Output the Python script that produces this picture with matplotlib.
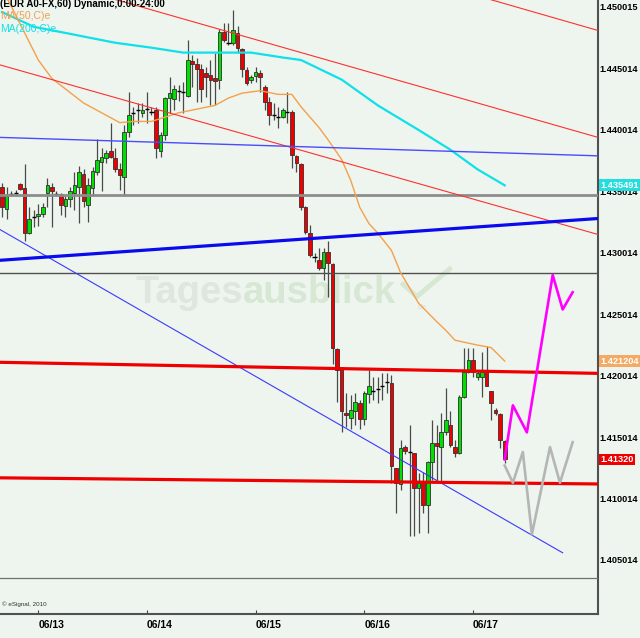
import matplotlib.pyplot as plt
import numpy as np

plt.rcParams['font.family'] = ['Liberation Sans', 'DejaVu Sans']

# hourly EUR A0-FX candles (prices)
opens = [1.4354, 1.4336, 1.4347, 1.4349, 1.4356, 1.4353, 1.4316, 1.4328, 1.4330, 1.4332,
         1.4349, 1.4354, 1.4349, 1.4348, 1.4338, 1.4344, 1.4349, 1.4354, 1.4364, 1.4339,
         1.4353, 1.4366, 1.4374, 1.4377, 1.4383, 1.4377, 1.4368, 1.4362, 1.4398, 1.4413,
         1.4415, 1.4414, 1.4416, 1.4416, 1.4416, 1.4383, 1.4396, 1.4426, 1.4425, 1.4431,
         1.4432, 1.4428, 1.4456, 1.4454, 1.4450, 1.4446, 1.4445, 1.4442, 1.4441, 1.4480,
         1.4472, 1.4471, 1.4479, 1.4466, 1.4449, 1.4441, 1.4444, 1.4446, 1.4435, 1.4423,
         1.4413, 1.4412, 1.4411, 1.4416, 1.4415, 1.4379, 1.4372, 1.4337, 1.4316, 1.4298,
         1.4294, 1.4288, 1.4301, 1.4291, 1.4222, 1.4207, 1.4170, 1.4166, 1.4171, 1.4178,
         1.4165, 1.4185, 1.4189, 1.4188, 1.4191, 1.4194, 1.4194, 1.4125, 1.4112, 1.4142,
         1.4139, 1.4137, 1.4109, 1.4114, 1.4095, 1.4130, 1.4145, 1.4142, 1.4154, 1.4160,
         1.4142, 1.4137, 1.4183, 1.4203, 1.4213, 1.4199, 1.4199, 1.4203, 1.4188, 1.4172,
         1.4169, 1.4147]
highs = [1.4357, 1.4354, 1.4350, 1.4351, 1.4357, 1.4372, 1.4337, 1.4335, 1.4340, 1.4341,
         1.4361, 1.4357, 1.4350, 1.4349, 1.4346, 1.4354, 1.4366, 1.4371, 1.4368, 1.4361,
         1.4370, 1.4393, 1.4385, 1.4384, 1.4406, 1.4385, 1.4373, 1.4404, 1.4431, 1.4419,
         1.4422, 1.4422, 1.4431, 1.4419, 1.4419, 1.4398, 1.4427, 1.4443, 1.4437, 1.4437,
         1.4439, 1.4473, 1.4461, 1.4459, 1.4454, 1.4451, 1.4457, 1.4463, 1.4482, 1.4487,
         1.4487, 1.4498, 1.4485, 1.4467, 1.4451, 1.4445, 1.4451, 1.4449, 1.4437, 1.4427,
         1.4422, 1.4419, 1.4418, 1.4431, 1.4416, 1.4380, 1.4373, 1.4338, 1.4323, 1.4300,
         1.4304, 1.4304, 1.4310, 1.4292, 1.4223, 1.4207, 1.4186, 1.4184, 1.4186, 1.4180,
         1.4188, 1.4205, 1.4199, 1.4199, 1.4202, 1.4202, 1.4201, 1.4125, 1.4148, 1.4144,
         1.4160, 1.4137, 1.4121, 1.4122, 1.4131, 1.4164, 1.4160, 1.4170, 1.4190, 1.4171,
         1.4148, 1.4184, 1.4223, 1.4223, 1.4223, 1.4205, 1.4219, 1.4224, 1.4188, 1.4174,
         1.4170, 1.4148]
lows = [1.4329, 1.4328, 1.4346, 1.4346, 1.4351, 1.4310, 1.4315, 1.4321, 1.4322, 1.4329,
        1.4337, 1.4321, 1.4346, 1.4331, 1.4329, 1.4337, 1.4335, 1.4324, 1.4337, 1.4325,
        1.4346, 1.4363, 1.4350, 1.4373, 1.4377, 1.4366, 1.4351, 1.4346, 1.4394, 1.4404,
        1.4406, 1.4411, 1.4406, 1.4412, 1.4377, 1.4378, 1.4392, 1.4414, 1.4416, 1.4424,
        1.4414, 1.4427, 1.4435, 1.4423, 1.4423, 1.4427, 1.4420, 1.4420, 1.4433, 1.4472,
        1.4469, 1.4469, 1.4463, 1.4443, 1.4437, 1.4438, 1.4439, 1.4431, 1.4416, 1.4404,
        1.4408, 1.4402, 1.4410, 1.4406, 1.4369, 1.4366, 1.4335, 1.4315, 1.4297, 1.4293,
        1.4286, 1.4278, 1.4264, 1.4210, 1.4179, 1.4154, 1.4158, 1.4157, 1.4160, 1.4157,
        1.4160, 1.4178, 1.4180, 1.4178, 1.4180, 1.4186, 1.4113, 1.4088, 1.4107, 1.4136,
        1.4070, 1.4070, 1.4072, 1.4088, 1.4072, 1.4115, 1.4115, 1.4113, 1.4152, 1.4142,
        1.4134, 1.4136, 1.4182, 1.4202, 1.4199, 1.4197, 1.4183, 1.4192, 1.4164, 1.4168,
        1.4141, 1.4129]
closes = [1.4337, 1.4346, 1.4348, 1.4349, 1.4352, 1.4316, 1.4328, 1.4329, 1.4332, 1.4337,
          1.4355, 1.4350, 1.4348, 1.4339, 1.4344, 1.4350, 1.4355, 1.4366, 1.4342, 1.4355,
          1.4367, 1.4376, 1.4378, 1.4381, 1.4378, 1.4368, 1.4363, 1.4398, 1.4412, 1.4414,
          1.4416, 1.4416, 1.4417, 1.4415, 1.4385, 1.4396, 1.4426, 1.4430, 1.4433, 1.4432,
          1.4431, 1.4457, 1.4454, 1.4450, 1.4433, 1.4443, 1.4441, 1.4440, 1.4480, 1.4473,
          1.4471, 1.4481, 1.4467, 1.4450, 1.4438, 1.4443, 1.4447, 1.4443, 1.4423, 1.4412,
          1.4412, 1.4411, 1.4416, 1.4415, 1.4380, 1.4373, 1.4337, 1.4317, 1.4298, 1.4297,
          1.4288, 1.4301, 1.4292, 1.4223, 1.4205, 1.4171, 1.4168, 1.4172, 1.4179, 1.4165,
          1.4186, 1.4192, 1.4188, 1.4189, 1.4192, 1.4195, 1.4127, 1.4113, 1.4141, 1.4139,
          1.4138, 1.4109, 1.4113, 1.4095, 1.4130, 1.4145, 1.4143, 1.4154, 1.4164, 1.4144,
          1.4137, 1.4183, 1.4203, 1.4213, 1.4203, 1.4202, 1.4203, 1.4192, 1.4178, 1.4170,
          1.4148, 1.4132]

day_idx = [8, 32, 56, 80, 104]
day_labels = ["06/13", "06/14", "06/15", "06/16", "06/17"]
price_ticks = [1.450015, 1.445014, 1.440014, 1.435014, 1.430014,
               1.425014, 1.420014, 1.415014, 1.410014, 1.405014]

# moving averages
ma50_idx = [0, 2, 5, 8, 11, 18, 24, 26, 29, 33, 39, 47, 50, 53, 57, 61, 64, 66, 70, 72,
            75, 77, 79, 81, 83, 86, 88, 92, 96, 98, 100, 105, 108, 111]
ma50 = [1.4515, 1.4501, 1.4479, 1.4457, 1.4442, 1.4422, 1.4410, 1.4406, 1.4407, 1.4407,
        1.4414, 1.4420, 1.4426, 1.4430, 1.4432, 1.4429, 1.4429, 1.4419, 1.4402, 1.4392,
        1.4376, 1.4359, 1.4337, 1.4324, 1.4316, 1.4302, 1.4284, 1.4259, 1.4244, 1.4237,
        1.4229, 1.4225, 1.4223, 1.4212]
ma200_idx = [0, 7, 14, 25, 33, 40, 48, 55, 62, 66, 75, 83, 92, 99, 105, 111]
ma200 = [1.4496, 1.4484, 1.4479, 1.4471, 1.4467, 1.4463, 1.4463, 1.4463, 1.4459, 1.4457,
         1.4441, 1.4420, 1.4400, 1.4384, 1.4368, 1.4355]

# trend lines: bar index ends and prices
line_x = [-0.45, 131.6]
red_chan_top = [1.4533, 1.4394]
red_chan_mid = [1.4453, 1.4315]
red_chan_far_x = [108.0, 131.6]
red_chan_far = [1.4506, 1.4481]
red_res = [1.4211, 1.4202]
red_sup = [1.4117, 1.4112]
blue_thick = [1.4294, 1.4328]
blue_flat = [1.4394, 1.4379]
blue_diag_x = [-0.45, 123.8]
blue_diag = [1.4319, 1.4056]
gray_levels = [1.43471, 1.42837, 1.40355]

# projected paths
proj_up_x = [111.0, 112.8, 115.9, 121.6, 123.8, 126.0]
proj_up = [1.4132, 1.4176, 1.4154, 1.4282, 1.4254, 1.4268]
proj_dn_x = [111.0, 112.8, 115.0, 117.0, 121.0, 123.2, 126.0]
proj_dn = [1.4127, 1.4113, 1.4138, 1.4071, 1.4142, 1.4113, 1.4146]

bg = '#eef5ee'
fig = plt.figure(figsize=(6.4, 6.38), dpi=100, facecolor=bg)
ax = fig.add_axes([0, 24 / 638, 598 / 640, 614 / 638], facecolor=bg)

o = np.array(opens)
h = np.array(highs)
l = np.array(lows)
c = np.array(closes)
x = np.arange(len(o))
up = c >= o
doji = np.abs(c - o) < 0.00015

ax.vlines(x, l, h, color='#4a4a4a', lw=0.9, zorder=2)
m = up & ~doji
ax.bar(x[m], (c - o)[m], bottom=o[m], width=0.8, color='#00e000',
       edgecolor='#303030', lw=0.6, zorder=3)
m = ~up & ~doji
ax.bar(x[m], (o - c)[m], bottom=c[m], width=0.8, color='#ee0000',
       edgecolor='#303030', lw=0.6, zorder=3)
ax.hlines(c[doji], x[doji] - 0.45, x[doji] + 0.45, color='black', lw=1.0, zorder=3)

# watermark
w1 = ax.text(0.226, 0.506, 'Tages', transform=ax.transAxes, fontsize=27.5, fontweight='bold',
             color='#dfe6df', va='baseline', zorder=1)
fig.canvas.draw()
bb = w1.get_window_extent()
x_next = ax.transAxes.inverted().transform((bb.x1, bb.y0))[0]
ax.text(x_next, 0.506, 'ausblick', transform=ax.transAxes, fontsize=27.5,
        fontweight='bold', color='#d6e8d3', va='baseline', zorder=1)
ax.plot([0.674, 0.697, 0.752], [0.537, 0.517, 0.562], transform=ax.transAxes,
        color='#d6e8d3', lw=3.5, zorder=1)
ax.text(0.698, 0.497, 'de', transform=ax.transAxes, fontsize=6, color='#d6e2d3', zorder=1)

# lines
for lvl, lw, col in zip(gray_levels, [2.0, 1.0, 0.9], ['#8c8c8c', '#505050', '#707070']):
    ax.axhline(lvl, color=col, lw=lw, zorder=4)
ax.plot(ma200_idx, ma200, color='#10e0e8', lw=1.6, zorder=4)
ax.plot(ma50_idx, ma50, color='#f5a04a', lw=1.0, zorder=4)
ax.plot(line_x, red_chan_top, color='#ff3030', lw=0.8, zorder=4)
ax.plot(line_x, red_chan_mid, color='#ff3030', lw=0.8, zorder=4)
ax.plot(red_chan_far_x, red_chan_far, color='#ff3030', lw=0.8, zorder=4)
ax.plot(line_x, blue_flat, color='#4a4aff', lw=1.0, zorder=4)
ax.plot(blue_diag_x, blue_diag, color='#3a3aff', lw=0.8, zorder=4)
ax.plot(line_x, blue_thick, color='#0a0aee', lw=2.3, zorder=5)
ax.plot(line_x, red_res, color='#ee0000', lw=2.3, zorder=5)
ax.plot(line_x, red_sup, color='#ee0000', lw=2.3, zorder=5)
ax.plot(proj_dn_x, proj_dn, color='#b5b5b5', lw=1.9, zorder=5)
ax.plot(proj_up_x, proj_up, color='#ff00ff', lw=1.9, zorder=6)

ax.set_xlim(-0.45, 131.6)
ax.set_ylim(1.40062, 1.45058)

ax.yaxis.tick_right()
ax.set_yticks(price_ticks, [f"{v:.6f}" for v in price_ticks])
ax.tick_params(axis='y', length=0, pad=1, labelsize=6.6)
ax.set_xticks(day_idx, day_labels)
ax.tick_params(axis='x', direction='in', length=3, pad=4, labelsize=7.5, color='#404040')
for lbl in ax.get_xticklabels():
    lbl.set_ha('left')
    lbl.set_fontweight('bold')
for lbl in ax.get_yticklabels():
    lbl.set_fontweight('bold')

for s in ['top', 'left']:
    ax.spines[s].set_visible(False)
for s in ['right', 'bottom']:
    ax.spines[s].set_color('#505050')
    ax.spines[s].set_linewidth(1.5)

# last-value markers on the price scale
tr = ax.get_yaxis_transform()
for val, txt, col in [(ma200[-1], '1.435491', '#22dede'),
                      (ma50[-1], '1.421204', '#f2aa64'),
                      (closes[-1], '1.41320', '#ee0000')]:
    ax.text(1.004, val, txt, transform=tr, va='center', ha='left', fontsize=6.6,
            fontweight='bold', color='white', zorder=10, clip_on=False,
            bbox=dict(boxstyle='square,pad=0.15', fc=col, ec='none'))

ax.text(0.0, 0.994, '(EUR A0-FX,60) Dynamic,0:00-24:00', transform=ax.transAxes,
        fontsize=7, fontweight='bold', va='center', ha='left', zorder=10)
ax.text(0.0, 0.974, 'MA(50,C)e', transform=ax.transAxes, fontsize=7.5,
        color='#f0a050', va='center', zorder=10)
ax.text(0.0, 0.953, 'MA(200,C)e', transform=ax.transAxes, fontsize=7.5,
        color='#10e0e8', va='center', zorder=10)
ax.text(0.003, 0.012, '\u00a9 eSignal, 2010', transform=ax.transAxes, fontsize=4.5,
        color='#333333', va='bottom', zorder=10)

fig.savefig('out.png', dpi=100, facecolor=bg)
